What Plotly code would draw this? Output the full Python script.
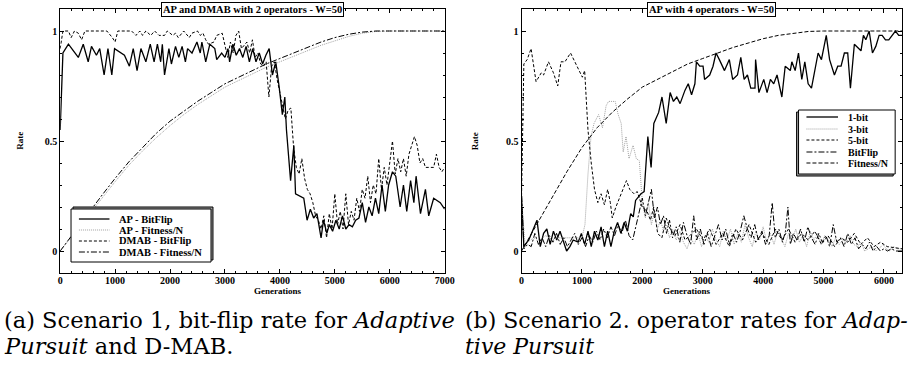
import plotly.graph_objects as go

W, H = 917, 365

# ---------------- Data: Scenario 1 (left) ----------------
ap_bitflip_gen = [0, 50, 150, 330, 420, 510, 570, 660, 720, 800, 870, 940, 990, 1170, 1260, 1330, 1400, 1470, 1560, 1640,
                  1710, 1770, 1830, 1860, 1900, 1980, 2025, 2100, 2160, 2220, 2280, 2320, 2400, 2490, 2550, 2580, 2650,
                  2725, 2815, 2850, 2940, 3000, 3055, 3085, 3145, 3205, 3265, 3325, 3385, 3445, 3505, 3565, 3625, 3685,
                  3745, 3805, 3865, 3925, 3985, 4045, 4090, 4120, 4195, 4255, 4285, 4375, 4435, 4495, 4555, 4615, 4675,
                  4750, 4795, 4855, 4900, 4960, 5020, 5080, 5140, 5200, 5260, 5320, 5380, 5440, 5500, 5560, 5620, 5680,
                  5740, 5800, 5860, 5920, 5980, 6050, 6110, 6190, 6250, 6310, 6380, 6440, 6480, 6560, 6650, 6710, 6800,
                  6920, 7000]
ap_bitflip_val = [0.55, 0.90, 0.94, 0.88, 0.94, 0.86, 0.93, 0.89, 0.92, 0.80, 0.92, 0.80, 0.92, 0.89, 0.84, 0.92, 0.82, 0.92, 0.86, 0.94,
                  0.86, 0.94, 0.86, 0.94, 0.80, 0.92, 0.85, 0.93, 0.88, 0.93, 0.86, 0.92, 0.90, 0.95, 0.90, 0.95, 0.86,
                  0.94, 0.92, 0.87, 0.90, 0.88, 0.92, 0.86, 0.94, 0.89, 0.92, 0.88, 0.93, 0.86, 0.92, 0.86, 0.90, 0.85,
                  0.89, 0.92, 0.80, 0.86, 0.75, 0.62, 0.70, 0.55, 0.32, 0.48, 0.26, 0.25, 0.24, 0.14, 0.19, 0.15, 0.17,
                  0.06, 0.14, 0.08, 0.12, 0.09, 0.14, 0.10, 0.16, 0.10, 0.12, 0.11, 0.14, 0.15, 0.22, 0.13, 0.20, 0.16,
                  0.24, 0.17, 0.30, 0.18, 0.30, 0.36, 0.34, 0.20, 0.30, 0.18, 0.32, 0.22, 0.34, 0.17, 0.28, 0.16, 0.24,
                  0.22, 0.19]

dmab_bitflip_gen = [0, 50, 150, 200, 260, 330, 390, 450, 700, 850, 950, 1000, 1050, 1300, 1380, 1450, 1500, 1560, 1650, 1720,
                    1800, 1900, 1950, 2050, 2100, 2150, 2250, 2350, 2400, 2500, 2550, 2600, 2650, 2700, 2800, 2850, 2950,
                    3000, 3050, 3100, 3150, 3200, 3250, 3300, 3400, 3450, 3500, 3550, 3600, 3650, 3700, 3750, 3800, 3850,
                    3900, 3950, 4000, 4050, 4100, 4150, 4200, 4250, 4300, 4350, 4400, 4450, 4500, 4550, 4600, 4650, 4700,
                    4750, 4800, 4850, 4900, 4950, 5000, 5050, 5100, 5150, 5200, 5250, 5300, 5350, 5400, 5450, 5500, 5550,
                    5600, 5650, 5700, 5750, 5800, 5850, 5900, 5950, 6000, 6050, 6100, 6150, 6200, 6250, 6300, 6350, 6400,
                    6450, 6500, 6550, 6600, 6650, 6700, 6800, 6850, 6900, 6950, 7000]
dmab_bitflip_val = [0.92, 1.0, 1.0, 0.97, 1.0, 0.99, 0.96, 1.0, 1.0, 1.0, 0.97, 0.95, 1.0, 1.0, 0.98, 1.0, 0.98, 1.0, 0.98, 1.0,
                    0.98, 0.98, 1.0, 0.98, 0.99, 0.97, 1.0, 0.97, 0.99, 1.0, 0.98, 0.99, 0.96, 0.94, 0.95, 0.98, 0.99,
                    0.94, 0.88, 0.95, 0.90, 0.98, 1.0, 0.92, 0.95, 0.90, 0.96, 0.88, 0.90, 0.85, 0.84, 0.86, 0.70, 0.84,
                    0.86, 0.78, 0.72, 0.65, 0.60, 0.64, 0.65, 0.47, 0.38, 0.35, 0.42, 0.33, 0.28, 0.26, 0.22, 0.16, 0.14,
                    0.10, 0.16, 0.06, 0.17, 0.10, 0.26, 0.12, 0.18, 0.10, 0.26, 0.12, 0.18, 0.14, 0.24, 0.18, 0.28, 0.24,
                    0.34, 0.22, 0.30, 0.26, 0.42, 0.28, 0.38, 0.30, 0.40, 0.50, 0.35, 0.42, 0.36, 0.42, 0.34, 0.44, 0.48,
                    0.52, 0.48, 0.40, 0.42, 0.38, 0.38, 0.38, 0.44, 0.38, 0.36, 0.38]

fitness_gen_1 = [0, 250, 500, 750, 1000, 1250, 1500, 1750, 2000, 2250, 2500, 2750, 3000, 3250, 3500, 3750, 4000, 4250,
                 4500, 4750, 5000, 5250, 5500, 5750, 6000, 6500, 7000]
ap_fitness_val = [0.0, 0.08, 0.16, 0.24, 0.315, 0.39, 0.455, 0.515, 0.57, 0.62, 0.665, 0.705, 0.745, 0.775, 0.805, 0.835,
                  0.86, 0.885, 0.91, 0.935, 0.955, 0.975, 0.99, 0.998, 1.0, 1.0, 1.0]
dmab_fitness_val = [0.0, 0.085, 0.17, 0.25, 0.33, 0.405, 0.47, 0.535, 0.59, 0.635, 0.68, 0.72, 0.76, 0.79, 0.82, 0.85,
                    0.875, 0.90, 0.925, 0.95, 0.97, 0.985, 0.995, 1.0, 1.0, 1.0, 1.0]

# ---------------- Data: Scenario 2 (right) ----------------
bit1_gen = [0, 38, 120, 256, 310, 365, 419, 474, 528, 583, 637, 691, 746, 800, 855, 937, 991, 1045, 1100, 1154, 1208, 1263,
            1317, 1372, 1426, 1480, 1535, 1590, 1644, 1698, 1753, 1807, 1850, 1888, 1943, 1977, 2030, 2091, 2145, 2190,
            2270, 2325, 2395, 2460, 2515, 2570, 2625, 2705, 2760, 2815, 2870, 2895, 2950, 3005, 3030, 3115, 3170, 3220,
            3275, 3360, 3440, 3495, 3575, 3630, 3685, 3740, 3795, 3865, 3875, 3930, 4010, 4065, 4120, 4175, 4230, 4310,
            4365, 4450, 4475, 4530, 4585, 4640, 4690, 4745, 4800, 4855, 4910, 4965, 5045, 5100, 5180, 5235, 5290, 5345,
            5400, 5445, 5510, 5620, 5660, 5700, 5755, 5810, 5865, 5920, 5970, 6025, 6080, 6190, 6245, 6300]
bit1_val = [0.25, 0.02, 0.05, 0.14, 0.02, 0.08, 0.10, 0.03, 0.09, 0.05, 0.09, 0.04, 0.0, 0.02, 0.05, 0.04, 0.08, 0.03, 0.09,
            0.02, 0.09, 0.05, 0.11, 0.02, 0.09, 0.02, 0.09, 0.13, 0.08, 0.13, 0.09, 0.17, 0.155, 0.23, 0.25, 0.26, 0.27,
            0.52, 0.38, 0.58, 0.63, 0.70, 0.58, 0.72, 0.68, 0.70, 0.67, 0.73, 0.76, 0.71, 0.76, 0.86, 0.84, 0.84, 0.78,
            0.80, 0.84, 0.90, 0.87, 0.82, 0.87, 0.78, 0.80, 0.88, 0.78, 0.80, 0.74, 0.74, 0.87, 0.72, 0.78, 0.72, 0.78,
            0.76, 0.80, 0.70, 0.84, 0.82, 0.86, 0.82, 0.90, 0.78, 0.86, 0.76, 0.74, 0.82, 0.90, 0.87, 0.98, 0.87, 0.80,
            0.84, 0.84, 0.90, 0.90, 0.74, 0.94, 0.91, 0.98, 0.96, 1.0, 0.90, 0.93, 0.98, 0.98, 0.96, 0.96, 1.0, 0.98, 0.98]

bit3_gen = [0, 50, 100, 200, 300, 400, 500, 600, 700, 800, 900, 1000, 1050, 1100, 1150, 1200, 1275, 1340, 1400, 1440, 1550,
            1600, 1650, 1683, 1730, 1780, 1846, 1900, 1950, 1977, 2000, 2050, 2100, 2150, 2200, 2250, 2300, 2350, 2400,
            2450, 2500, 2560, 2620, 2680, 2740, 2800, 2860, 2920, 2980, 3040, 3100, 3160, 3220, 3280, 3340, 3400, 3460,
            3520, 3580, 3640, 3700, 3760, 3820, 3880, 3940, 4000, 4060, 4120, 4180, 4240, 4300, 4360, 4420, 4480, 4540,
            4600, 4660, 4720, 4780, 4840, 4900, 4960, 5020, 5080, 5140, 5200, 5260, 5320, 5380, 5440, 5500, 5560, 5620,
            5680, 5740, 5800, 5860, 5920, 5980, 6040, 6100, 6160, 6220, 6300]
bit3_val = [0.25, 0.05, 0.04, 0.06, 0.05, 0.07, 0.05, 0.06, 0.06, 0.06, 0.06, 0.06, 0.12, 0.35, 0.52, 0.58, 0.62, 0.56, 0.66,
            0.68, 0.68, 0.62, 0.58, 0.45, 0.52, 0.42, 0.48, 0.42, 0.41, 0.31, 0.22, 0.15, 0.22, 0.12, 0.18, 0.10, 0.14,
            0.09, 0.12, 0.06, 0.10, 0.05, 0.09, 0.04, 0.01, 0.06, 0.03, 0.08, 0.02, 0.07, 0.04, 0.10, 0.05, 0.02, 0.09,
            0.05, 0.10, 0.03, 0.08, 0.04, 0.12, 0.06, 0.02, 0.09, 0.05, 0.11, 0.04, 0.08, 0.03, 0.09, 0.06, 0.02, 0.08,
            0.05, 0.10, 0.04, 0.07, 0.02, 0.09, 0.05, 0.08, 0.03, 0.07, 0.05, 0.02, 0.06, 0.03, 0.05, 0.04, 0.07, 0.03,
            0.02, 0.04, 0.0, 0.01, 0.02, 0.0, 0.01, 0.03, 0.01, 0.0, 0.02, 0.01, 0.01]

bit5_gen = [0, 38, 93, 158, 240, 327, 365, 446, 528, 599, 653, 719, 811, 882, 964, 1007, 1045, 1100, 1154, 1208, 1263, 1317,
            1372, 1426, 1470, 1502, 1562, 1617, 1671, 1737, 1791, 1862, 1916, 1998, 2079, 2134, 2188, 2254, 2324, 2395,
            2461, 2542, 2624, 2706, 2787, 2896, 3005, 3114, 3222, 3332, 3440, 3549, 3658, 3767, 3876, 3985, 4094, 4203,
            4311, 4420, 4529, 4638, 4747, 4856, 4965, 5073, 5182, 5291, 5400, 5509, 5618, 5727, 5836, 5944, 6053, 6300]
bit5_val = [0.25, 0.85, 0.87, 0.92, 0.77, 0.81, 0.80, 0.86, 0.81, 0.75, 0.86, 0.86, 0.90, 0.86, 0.82, 0.79, 0.82, 0.55, 0.40,
            0.28, 0.22, 0.26, 0.21, 0.28, 0.22, 0.15, 0.20, 0.24, 0.28, 0.32, 0.28, 0.26, 0.27, 0.20, 0.18, 0.14, 0.20,
            0.08, 0.06, 0.15, 0.10, 0.07, 0.12, 0.05, 0.07, 0.10, 0.05, 0.10, 0.03, 0.08, 0.02, 0.10, 0.05, 0.12, 0.04,
            0.08, 0.03, 0.10, 0.05, 0.10, 0.04, 0.08, 0.05, 0.09, 0.03, 0.07, 0.02, 0.06, 0.04, 0.08, 0.03, 0.06, 0.02,
            0.04, 0.02, 0.01]

bf_gen = [0, 40, 100, 160, 220, 280, 340, 400, 460, 520, 580, 640, 700, 760, 820, 880, 940, 1000, 1060, 1120, 1180, 1240,
          1300, 1360, 1420, 1480, 1540, 1600, 1660, 1720, 1780, 1840, 1900, 1950, 2000, 2050, 2100, 2150, 2200, 2250, 2300,
          2350, 2400, 2450, 2500, 2560, 2620, 2680, 2740, 2800, 2850, 2900, 2960, 3020, 3080, 3140, 3200, 3260, 3320, 3380,
          3440, 3500, 3560, 3620, 3680, 3740, 3800, 3860, 3920, 3980, 4040, 4100, 4150, 4200, 4260, 4320, 4370, 4410, 4450,
          4500, 4560, 4620, 4680, 4740, 4800, 4860, 4920, 4980, 5040, 5100, 5160, 5220, 5280, 5340, 5400, 5460, 5520, 5580,
          5640, 5700, 5760, 5820, 5880, 5940, 6000, 6060, 6120, 6200, 6300]
bf_val = [0.25, 0.01, 0.03, 0.02, 0.08, 0.03, 0.06, 0.02, 0.07, 0.04, 0.08, 0.03, 0.06, 0.02, 0.05, 0.08, 0.03, 0.06, 0.02,
          0.07, 0.04, 0.09, 0.05, 0.10, 0.06, 0.11, 0.07, 0.12, 0.08, 0.14, 0.07, 0.05, 0.12, 0.18, 0.24, 0.16, 0.22, 0.28,
          0.15, 0.20, 0.12, 0.16, 0.08, 0.14, 0.06, 0.11, 0.04, 0.13, 0.07, 0.03, 0.16, 0.05, 0.10, 0.03, 0.08, 0.02, 0.07,
          0.12, 0.05, 0.10, 0.03, 0.08, 0.04, 0.09, 0.16, 0.10, 0.06, 0.12, 0.05, 0.09, 0.03, 0.07, 0.22, 0.06, 0.10, 0.04,
          0.09, 0.20, 0.03, 0.08, 0.05, 0.10, 0.04, 0.11, 0.06, 0.03, 0.08, 0.04, 0.07, 0.02, 0.12, 0.04, 0.06, 0.02, 0.08,
          0.03, 0.06, 0.01, 0.03, 0.01, 0.04, 0.0, 0.02, 0.0, 0.01, 0.0, 0.01, 0.0, 0.0]

fitness_gen_2 = [0, 250, 500, 750, 1000, 1250, 1500, 1750, 2000, 2250, 2500, 2750, 3000, 3250, 3500, 3750, 4000, 4250,
                 4500, 4750, 5000, 5500, 6000, 6300]
fitness2_val = [0.0, 0.12, 0.24, 0.36, 0.47, 0.56, 0.63, 0.69, 0.745, 0.78, 0.815, 0.85, 0.875, 0.90, 0.925, 0.945, 0.965,
                0.98, 0.99, 0.998, 1.0, 1.0, 1.0, 1.0]

titles = ["AP and DMAB with 2 operators - W=50", "AP with 4 operators - W=50"]
captions = [["(a) Scenario 1, bit-flip rate for <i>Adaptive</i>", "<i>Pursuit</i> and D-MAB."],
            ["(b) Scenario 2. operator rates for <i>Adap-</i>", "<i>tive Pursuit</i>"]]

# ---------------- Figure ----------------
FONT = "Liberation Serif"
CAPFONT = "DejaVu Serif"
fig = go.Figure()

def px(x):
    return x / W

def py(y):
    return 1 - y / H

series = []  # (name, dash, color, width, axis-id)

def add(x, y, name, dash, color, width, xa, ya):
    fig.add_trace(go.Scatter(x=x, y=y, mode="lines", name=name, xaxis=xa, yaxis=ya, showlegend=False,
                             line=dict(color=color, width=width, dash=dash)))
    series.append((name, dash, color, width, xa))

GREY = "#a0a0a0"
add(ap_bitflip_gen, ap_bitflip_val, "AP - BitFlip", "solid", "black", 1.3, "x", "y")
add(fitness_gen_1, ap_fitness_val, "AP - Fitness/N", "1px,1px", GREY, 1.0, "x", "y")
add(dmab_bitflip_gen, dmab_bitflip_val, "DMAB - BitFlip", "3px,2px", "black", 1.0, "x", "y")
add(fitness_gen_1, dmab_fitness_val, "DMAB - Fitness/N", "6px,2px,2px,2px", "black", 1.0, "x", "y")

add(bit1_gen, bit1_val, "1-bit", "solid", "black", 1.3, "x2", "y2")
add(bit3_gen, bit3_val, "3-bit", "1px,1px", GREY, 1.0, "x2", "y2")
add(bit5_gen, bit5_val, "5-bit", "3px,2px", "black", 1.0, "x2", "y2")
add(bf_gen, bf_val, "BitFlip", "6px,2px,2px,2px", "black", 1.0, "x2", "y2")
add(fitness_gen_2, fitness2_val, "Fitness/N", "4px,2px", "black", 1.0, "x2", "y2")

x1dom = [58 / W, 448 / W]
x2dom = [526 / W, 912 / W]
ydom = [1 - 273 / H, 1 - 9 / H]

tickfont = dict(family=FONT, size=10, color="black", weight="bold")
common_x = dict(showline=True, linecolor="black", linewidth=1, mirror="ticks", ticks="inside", ticklen=4,
                tickcolor="black", tickwidth=1, showgrid=False, zeroline=False, tickfont=tickfont, dtick=1000,
                tick0=0, ticklabelstandoff=-2,
                minor=dict(ticks="inside", ticklen=2, dtick=200, tickcolor="black", showgrid=False))
common_y = dict(showline=True, linecolor="black", linewidth=1, mirror="ticks", ticks="inside", ticklen=4,
                tickcolor="black", tickwidth=1, showgrid=False, zeroline=False, tickfont=tickfont, range=[-0.1, 1.1],
                tickvals=[0, 0.5, 1], ticktext=["0", "0.5", "1"], domain=ydom,
                minor=dict(ticks="inside", ticklen=2, dtick=0.1, tick0=0, tickcolor="black", showgrid=False))

fig.update_layout(
    width=W, height=H, autosize=False, margin=dict(l=0, r=0, t=0, b=0),
    paper_bgcolor="white", plot_bgcolor="white", showlegend=False,
    font=dict(family=FONT, color="black"),
    xaxis=dict(domain=x1dom, range=[0, 7000], anchor="y", **common_x),
    yaxis=dict(anchor="x", **common_y),
    xaxis2=dict(domain=x2dom, range=[0, 6300], anchor="y2", **common_x),
    yaxis2=dict(anchor="x2", **common_y),
)

ann = []
shapes = []

# Titles in boxes over the top frame
for t, xd in zip(titles, [x1dom, x2dom]):
    ann.append(dict(text="<b>" + t + "</b>", x=sum(xd) / 2, y=ydom[1], xref="paper", yref="paper", xanchor="center",
                    yanchor="middle", showarrow=False, bgcolor="white", bordercolor="black", borderwidth=1,
                    borderpad=1, font=dict(family=FONT, size=10.5, color="black")))

for xp in [10, 479]:
    ann.append(dict(text="<b>Rate</b>", x=px(xp), y=py(141), xref="paper", yref="paper", textangle=-90,
                    showarrow=False, font=dict(family=FONT, size=9, color="black")))
for xd in [x1dom, x2dom]:
    ann.append(dict(text="<b>Generations</b>", x=sum(xd) / 2, y=py(298), xref="paper", yref="paper",
                    showarrow=False, font=dict(family=FONT, size=9, color="black")))

# Hand-drawn legends (box with shadow, line samples, labels)
def legend_box(box, shadow_off, rows, sample_x, text_x, entries, fsize):
    x0, y0, x1, y1 = box
    dx, dy = shadow_off
    shapes.append(dict(type="rect", xref="paper", yref="paper", x0=px(x0 + dx), x1=px(x1 + dx), y0=py(y0 + dy),
                       y1=py(y1 + dy), fillcolor="#9a9a9a", line=dict(color="black", width=1), layer="above"))
    shapes.append(dict(type="rect", xref="paper", yref="paper", x0=px(x0), x1=px(x1), y0=py(y0), y1=py(y1),
                       fillcolor="white", line=dict(color="black", width=1), layer="above"))
    for (name, dash, color, width, _), yr in zip(entries, rows):
        shapes.append(dict(type="line", xref="paper", yref="paper", x0=px(sample_x[0]), x1=px(sample_x[1]),
                           y0=py(yr), y1=py(yr), line=dict(color=color, width=width, dash=dash), layer="above"))
        ann.append(dict(text="<b>" + name + "</b>", x=px(text_x), y=py(yr), xref="paper", yref="paper",
                        xanchor="left", yanchor="middle", showarrow=False,
                        font=dict(family=FONT, size=fsize, color="black")))

left_entries = [s for s in series if s[4] == "x"]
right_entries = [s for s in series if s[4] == "x2"]
legend_box((69, 209, 211, 262), (2, -2), [219, 230, 241, 252], (77, 108), 116, left_entries, 10.5)
legend_box((807, 110, 905, 174), (-2, 2), [117, 129, 140, 152, 163], (815, 847), 855, right_entries, 10)

for lines, xp, fs in zip(captions, [-1, 467], [22.5, 22]):
    for t, yp in zip(lines, [320, 346]):
        ann.append(dict(text=t, x=px(xp), y=py(yp), xref="paper", yref="paper", xanchor="left", yanchor="middle",
                        showarrow=False, font=dict(family=CAPFONT, size=fs, color="black")))

fig.update_layout(annotations=ann, shapes=shapes)
fig.write_html("out.html", config={"displayModeBar": False},
               post_script="document.body.style.margin='0px';document.body.style.overflow='hidden';")
